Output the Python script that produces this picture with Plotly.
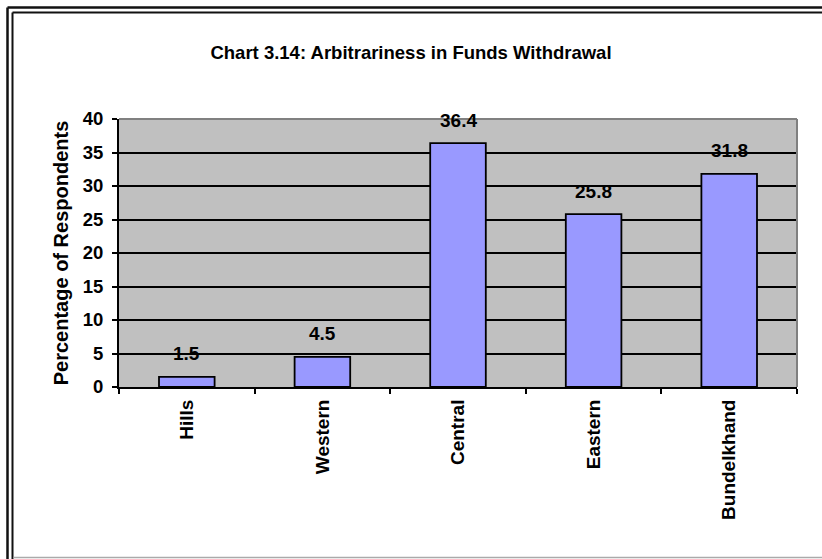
import plotly.graph_objects as go

categories = ["Hills", "Western", "Central", "Eastern", "Bundelkhand"]
values = [1.5, 4.5, 36.4, 25.8, 31.8]
value_labels = ["1.5", "4.5", "36.4", "25.8", "31.8"]
y_ticks = [0, 5, 10, 15, 20, 25, 30, 35, 40]

W, H = 822, 559
L, R, T, B = 119, 25, 119, 172
PW, PH = W - L - R, H - T - B

def px(x):
    return (x - L) / PW

def py(y):
    return (H - B - y) / PH

FONT = "Liberation Sans, Arial, sans-serif"

fig = go.Figure()
fig.add_trace(go.Bar(
    x=categories, y=values, width=0.41,
    marker=dict(color="#9999FF", line=dict(color="black", width=1.8)),
    hoverinfo="skip",
))

annotations = []
for c, v, t in zip(categories, values, value_labels):
    annotations.append(dict(
        x=c, y=v, xref="x", yref="y", text=t, showarrow=False,
        yanchor="middle", yshift=23,
        font=dict(family=FONT, size=19, color="black", weight="bold"),
    ))

shapes = []
# plot border top & right (gray)
shapes.append(dict(type="line", xref="paper", yref="paper", x0=0, x1=1, y0=1, y1=1,
                   line=dict(color="#808080", width=2), layer="above"))
shapes.append(dict(type="line", xref="paper", yref="paper", x0=1, x1=1, y0=0, y1=1,
                   line=dict(color="#808080", width=2), layer="above"))
# outer double frame
for pos, w in [(7.5, 2.5), (12.5, 2.0)]:
    shapes.append(dict(type="line", xref="paper", yref="paper",
                       x0=px(pos), x1=px(pos), y0=py(pos), y1=py(H + 5),
                       line=dict(color="#111111", width=w)))
    shapes.append(dict(type="line", xref="paper", yref="paper",
                       x0=px(pos), x1=px(W + 5), y0=py(pos), y1=py(pos),
                       line=dict(color="#111111", width=w)))
# bottom thin gray line
shapes.append(dict(type="line", xref="paper", yref="paper",
                   x0=px(13.5), x1=px(W + 5), y0=py(557.5), y1=py(557.5),
                   line=dict(color="#AAAAAA", width=1.5)))

fig.update_layout(
    width=W, height=H,
    margin=dict(l=L, r=R, t=T, b=B, pad=0),
    paper_bgcolor="white", plot_bgcolor="#C0C0C0",
    showlegend=False,
    title=dict(text="Chart 3.14: Arbitrariness in Funds Withdrawal",
               x=0.5, xanchor="center", xref="container",
               y=1 - 53 / H, yanchor="middle", yref="container",
               font=dict(family=FONT, size=18.5, color="black", weight="bold")),
    xaxis=dict(type="category", tickson="boundaries", ticks="outside", ticklen=5,
               tickwidth=1.5, tickcolor="black", showline=True, linecolor="black",
               linewidth=2, showgrid=False, tickangle=-90, ticklabelstandoff=3,
               tickfont=dict(family=FONT, size=19, color="black", weight="bold"),
               range=[-0.5, 4.5]),
    yaxis=dict(range=[0, 40], tickvals=y_ticks, ticks="outside", ticklen=5,
               tickwidth=1.5, tickcolor="black", showline=True, linecolor="black",
               linewidth=2, showgrid=True, gridcolor="black", gridwidth=2,
               zeroline=False, ticklabelstandoff=5,
               tickfont=dict(family=FONT, size=18.5, color="black", weight="bold"),
               title=dict(text="Percentage of Respondents", standoff=9,
                          font=dict(family=FONT, size=20, color="black", weight="bold"))),
    annotations=annotations,
    shapes=shapes,
)

fig.write_html("out.html")
